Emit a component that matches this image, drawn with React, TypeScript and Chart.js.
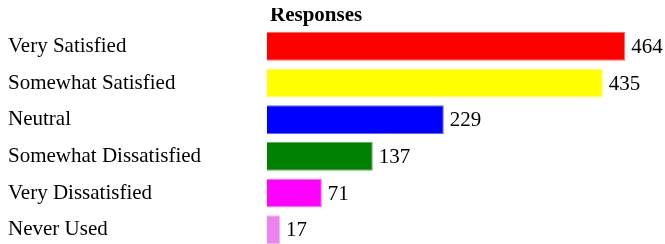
import React, { useEffect, useRef } from "react";
import { Chart, registerables } from "chart.js";

Chart.register(...registerables);

const categories = [
  "Very Satisfied",
  "Somewhat Satisfied",
  "Neutral",
  "Somewhat Dissatisfied",
  "Very Dissatisfied",
  "Never Used",
];
const responses = [464, 435, 229, 137, 71, 17];
const barColors = ["#ff0000", "#ffff00", "#0000ff", "#008000", "#ff00ff", "#ee82ee"];
const borderColors = [
  "rgba(255,0,0,0.6)",
  "rgba(255,255,0,0.6)",
  "rgba(0,0,255,0.6)",
  "rgba(0,128,0,0.6)",
  "rgba(255,0,255,0.6)",
  "rgba(238,130,238,0.6)",
];
const titleText = "Responses";
const xMax = 500;

const FONT = '"Liberation Serif", "Times New Roman", serif';

const overlayPlugin = {
  id: "overlay",
  afterDatasetsDraw(chart: any) {
    const { ctx, chartArea } = chart;
    ctx.save();
    // title
    ctx.font = `bold 21px ${FONT}`;
    ctx.fillStyle = "#000";
    ctx.textAlign = "left";
    ctx.textBaseline = "alphabetic";
    ctx.fillText(titleText, chartArea.left + 3, 13);
    // value labels
    ctx.font = `21px ${FONT}`;
    ctx.textBaseline = "middle";
    const meta = chart.getDatasetMeta(0);
    meta.data.forEach((bar: any, i: number) => {
      ctx.fillText(String(responses[i]), bar.x + 6, bar.y + 1);
    });
    ctx.restore();
  },
};

export default function App() {
  const ref = useRef<HTMLCanvasElement | null>(null);
  useEffect(() => {
    if (!ref.current) return;
    const chart = new Chart(ref.current, {
      type: "bar",
      data: {
        labels: categories,
        datasets: [
          {
            data: responses,
            backgroundColor: barColors,
            borderColor: borderColors,
            borderWidth: 1,
            barPercentage: 0.78,
            categoryPercentage: 1,
          },
        ],
      },
      options: {
        indexAxis: "y",
        responsive: false,
        animation: false,
        layout: { padding: { top: 20, right: 12, left: 0, bottom: 0 } },
        plugins: {
          legend: { display: false },
          title: { display: false },
          tooltip: { enabled: false },
        },
        scales: {
          x: {
            display: false,
            min: 0,
            max: xMax,
          },
          y: {
            grid: { display: false, drawTicks: false },
            border: { display: false },
            ticks: {
              crossAlign: "far",
              padding: 0,
              color: "#000",
              font: { family: FONT, size: 21 },
            },
            afterFit(scale: any) {
              scale.width = 259;
              scale.paddingTop = 0;
              scale.paddingBottom = 0;
            },
          },
        },
      },
      plugins: [overlayPlugin],
    });
    return () => chart.destroy();
  }, []);
  return (
    <div
      style={{
        position: "fixed",
        left: 8,
        top: 8,
        width: 657,
        height: 236,
        overflow: "hidden",
        background: "#fff",
      }}
    >
      <canvas ref={ref} width={657} height={240} style={{ display: "block" }} />
    </div>
  );
}
